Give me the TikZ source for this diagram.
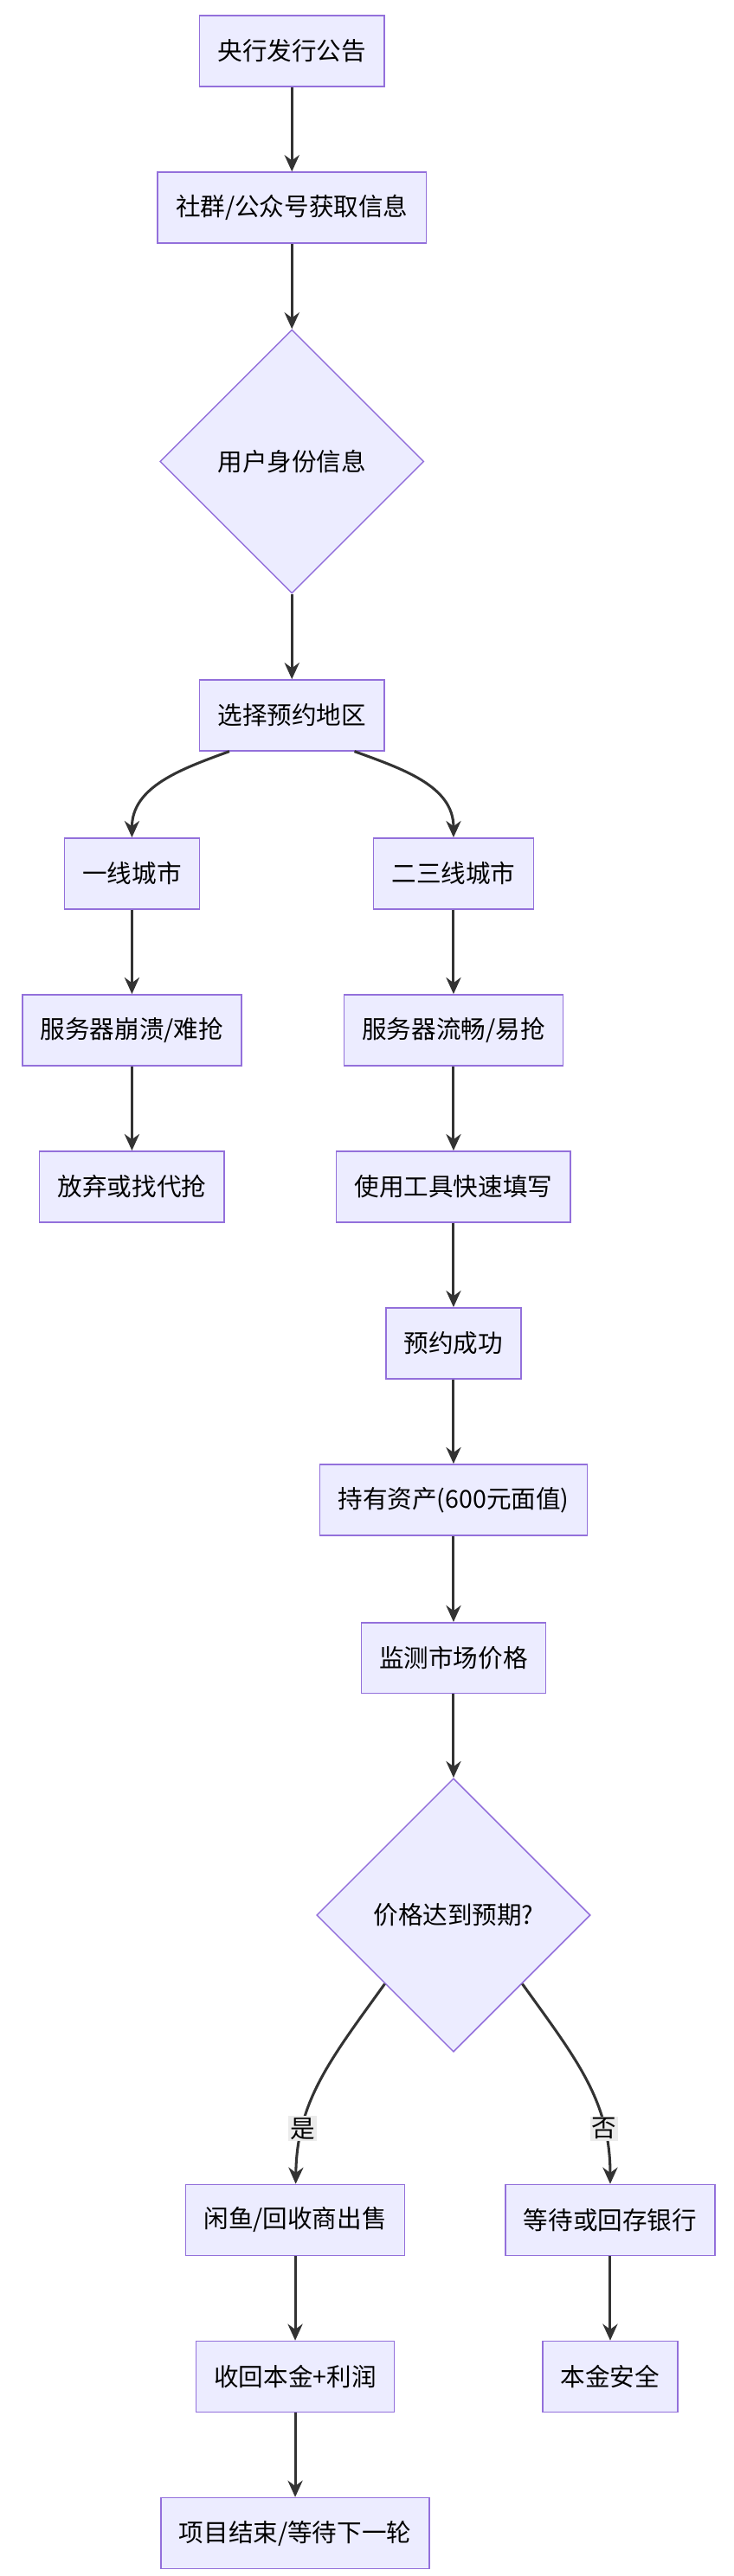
\documentclass[tikz,border=0pt]{standalone}
\usepackage{fontspec}
\setmainfont{Noto Sans CJK SC}
\usetikzlibrary{shapes.geometric,arrows.meta}
\definecolor{boxfill}{HTML}{ECECFF}
\definecolor{boxline}{HTML}{9370DB}
\definecolor{linkcol}{HTML}{333333}
\begin{document}
\begin{tikzpicture}[x=1pt,y=-1pt,
		box/.style={rectangle, fill=boxfill, draw=boxline, line width=0.8pt,
			minimum height=43pt, inner xsep=11pt, font=\fontsize{15}{18}\selectfont},
		choice/.style={diamond, fill=boxfill, draw=boxline, line width=0.8pt,
			inner sep=0pt, font=\fontsize{15}{18}\selectfont},
		link/.style={draw=linkcol, line width=1.6pt, -{Stealth[length=10pt,width=9pt]}},
		tag/.style={fill=black!8, inner sep=1pt, font=\fontsize{15}{18}\selectfont}]

		\useasboundingbox (0,0) rectangle (445,1563);

		% Main column
		\node[box] (notice) at (177,31) {央行发行公告};
		\node[box] (channel) at (177,126) {社群/公众号获取信息};
		\node[choice, minimum width=160pt, minimum height=160pt] (identity) at (177,280) {用户身份信息};
		\node[box] (region) at (177,434) {选择预约地区};

		% Left branch
		\node[box] (tier1) at (80,530) {一线城市};
		\node[box] (crash) at (80,625) {服务器崩溃/难抢};
		\node[box] (giveup) at (80,720) {放弃或找代抢};

		% Right branch
		\node[box] (tier2) at (275,530) {二三线城市};
		\node[box] (smooth) at (275,625) {服务器流畅/易抢};
		\node[box] (tool) at (275,720) {使用工具快速填写};
		\node[box] (success) at (275,815) {预约成功};
		\node[box] (hold) at (275,910) {持有资产(600元面值)};
		\node[box] (monitor) at (275,1006) {监测市场价格};
		\node[choice, minimum width=166pt, minimum height=166pt] (price) at (275,1162) {价格达到预期?};

		% Outcomes
		\node[box] (sell) at (179,1347) {闲鱼/回收商出售};
		\node[box] (profit) at (179,1442) {收回本金+利润};
		\node[box] (finish) at (179,1537) {项目结束/等待下一轮};
		\node[box] (wait) at (370,1347) {等待或回存银行};
		\node[box] (safe) at (370,1442) {本金安全};

		\path[link] (notice) -- (channel);
		\path[link] (channel) -- (identity);
		\path[link] (identity) -- (region);
		\path[link] (region.210) to[out=200,in=90] (tier1);
		\path[link] (region.330) to[out=-20,in=90] (tier2);
		\path[link] (tier1) -- (crash);
		\path[link] (crash) -- (giveup);
		\path[link] (tier2) -- (smooth);
		\path[link] (smooth) -- (tool);
		\path[link] (tool) -- (success);
		\path[link] (success) -- (hold);
		\path[link] (hold) -- (monitor);
		\path[link] (monitor) -- (price);
		\path[link] (price.225) .. controls (200,1250) and (180,1275) .. node[tag, pos=0.75] (yes) {是} (sell);
		\path[link] (price.315) .. controls (350,1250) and (370,1275) .. node[tag, pos=0.75] (no) {否} (wait);
		\path[link] (sell) -- (profit);
		\path[link] (profit) -- (finish);
		\path[link] (wait) -- (safe);
	\end{tikzpicture}
\end{document}
